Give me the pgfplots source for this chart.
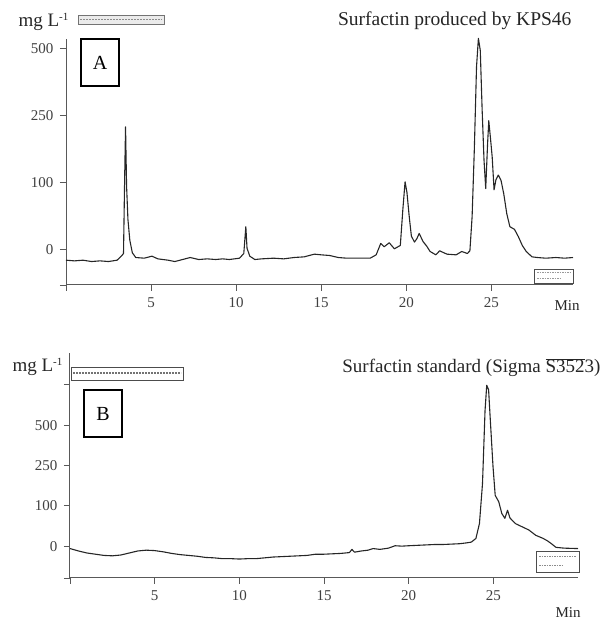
\documentclass[border=0pt]{standalone}
\usepackage{fontspec}
\setmainfont{Liberation Serif}
\usepackage{pgfplots}
\pgfplotsset{compat=1.18}

% y values are in tick units: 0 -> 0, 1 -> 100, 2 -> 250, 3 -> 500, 4 -> 750 mg/L
\pgfplotsset{
  chrom/.style={
    scale only axis,
    axis x line*=bottom, axis y line*=left,
    axis line style={black!65, line width=1pt},
    tick align=outside, major tick length=6pt,
    tick style={black!65, line width=0.9pt},
    tick label style={font=\fontsize{15}{15}\selectfont, text=black!75},
    yticklabel style={xshift=-3pt},
    xticklabel style={yshift=-3pt},
    xtick={0,5,10,15,20,25},
    xticklabels={,5,10,15,20,25},
    clip=false,
  },
  trace/.style={black!85, line width=1.1pt, line join=round},
}

\begin{document}
\begin{tikzpicture}[x=1pt,y=1pt]
\useasboundingbox (0,0) rectangle (607,621);

%% panel A
\begin{axis}[chrom,
  at={(66pt,336pt)}, anchor=south west,
  width=507pt, height=246pt,
  xmin=0, xmax=29.8, ymin=-0.53, ymax=3.14,
  ytick={-0.53,0,1,2,3},
  yticklabels={,0,100,250,500},
]
\addplot[trace] coordinates {
(0,-0.16) (0.5,-0.17) (1,-0.16) (1.5,-0.18) (2,-0.17) (2.5,-0.18) (3.0,-0.16)
(3.25,-0.10) (3.38,-0.06) (3.45,1.1) (3.5,1.83) (3.56,0.95) (3.64,0.45)
(3.75,0.14) (3.9,-0.05) (4.1,-0.12) (4.6,-0.13) (5.05,-0.10) (5.4,-0.14)
(6.0,-0.16) (6.4,-0.18) (7.0,-0.14) (7.3,-0.12) (7.8,-0.15) (8.3,-0.14)
(8.8,-0.15) (9.2,-0.14) (9.6,-0.15) (10.2,-0.13) (10.45,-0.06) (10.57,0.34)
(10.64,0.02) (10.8,-0.10) (11.1,-0.15) (11.5,-0.14) (12.2,-0.13) (12.8,-0.14)
(13.4,-0.12) (14.0,-0.11) (14.6,-0.07) (15.0,-0.08) (15.5,-0.09) (16.0,-0.12)
(16.5,-0.13) (17.2,-0.13) (17.88,-0.13) (18.23,-0.08) (18.5,0.09) (18.7,0.04)
(19.0,0.10) (19.3,0.01) (19.65,0.06) (19.8,0.6) (19.93,1.01) (20.04,0.85)
(20.17,0.5) (20.3,0.2) (20.48,0.11) (20.62,0.16) (20.76,0.24) (20.98,0.12)
(21.2,0.05) (21.4,-0.03) (21.74,-0.08) (21.96,-0.02) (22.39,-0.07)
(22.93,-0.08) (23.26,-0.03) (23.59,-0.06) (23.74,-0.02) (23.87,0.49)
(24.0,1.49) (24.13,2.73) (24.24,3.15) (24.35,2.97) (24.46,2.08) (24.57,1.33)
(24.67,0.91) (24.78,1.58) (24.85,1.92) (24.96,1.63) (25.05,1.38) (25.16,0.89)
(25.27,1.04) (25.41,1.11) (25.57,1.03) (25.73,0.83) (25.91,0.53) (26.09,0.34)
(26.36,0.30) (26.59,0.19) (26.82,0.06) (27.05,-0.03) (27.39,-0.11)
(27.7,-0.12) (28.2,-0.13) (28.8,-0.12) (29.3,-0.13) (29.8,-0.12)
};
\end{axis}

%% panel B
\begin{axis}[chrom,
  at={(70pt,43pt)}, anchor=south west,
  width=508pt, height=225pt,
  xmin=0, xmax=30, ymin=-0.79, ymax=4.79,
  ytick={-0.79,0,1,2,3,4},
  yticklabels={,0,100,250,500,},
]
\addplot[trace] coordinates {
(0,-0.06) (0.5,-0.12) (1,-0.17) (1.5,-0.2) (2,-0.23) (2.5,-0.24) (3,-0.22)
(3.5,-0.17) (4,-0.12) (4.5,-0.1) (5,-0.11) (5.5,-0.14) (6,-0.18) (6.5,-0.21)
(7,-0.23) (7.5,-0.25) (8,-0.28) (8.5,-0.29) (9,-0.31) (9.5,-0.31) (10,-0.32)
(10.5,-0.31) (11,-0.31) (11.5,-0.29) (12,-0.27) (12.5,-0.26) (13,-0.25)
(13.5,-0.24) (14,-0.23) (14.5,-0.2) (15,-0.2) (15.5,-0.19) (16,-0.18)
(16.5,-0.16) (16.65,-0.08) (16.8,-0.15) (17.2,-0.12) (17.6,-0.1) (17.9,-0.06)
(18.3,-0.08) (18.8,-0.05) (19.2,0.01) (19.6,0.0) (20,0.01) (20.5,0.02)
(21,0.03) (21.5,0.04) (22,0.04) (22.5,0.05) (23,0.06) (23.4,0.08) (23.7,0.1)
(23.97,0.19) (24.18,0.56) (24.36,1.55) (24.51,3.36) (24.61,3.99) (24.72,3.88)
(24.82,3.14) (24.98,1.98) (25.11,1.26) (25.32,1.1) (25.5,0.81) (25.68,0.69)
(25.84,0.89) (25.98,0.7) (26.3,0.56) (26.6,0.5) (27.1,0.4) (27.5,0.27)
(27.95,0.19) (28.2,0.13) (28.4,0.07) (28.7,-0.03) (29.2,-0.05) (30,-0.06)
};
\end{axis}

%% titles and labels
\node[anchor=base east, font=\fontsize{19.5}{20}\selectfont, text=black!85] at (575,595)
  {Surfactin produced by KPS46};
\node[anchor=base east, font=\fontsize{19}{20}\selectfont, text=black!85] at (604,248)
  {Surfactin standard (Sigma $\overline{\mbox{S352}}$3)};
\node[anchor=base west, font=\fontsize{19}{20}\selectfont, text=black!85] at (15,594)
  {mg L$^{\mbox{\fontsize{11}{11}\selectfont -1}}$};
\node[anchor=base west, font=\fontsize{19}{20}\selectfont, text=black!85] at (9,249)
  {mg L$^{\mbox{\fontsize{11}{11}\selectfont -1}}$};
\node[font=\fontsize{15}{15}\selectfont, text=black!85] at (567,315) {Min};
\node[font=\fontsize{15}{15}\selectfont, text=black!85] at (568,8) {Min};

%% panel letters
\draw[line width=1.3pt] (81,535) rectangle (119,582);
\node[font=\fontsize{20}{20}\selectfont] at (100,558.5) {A};
\draw[line width=1.3pt] (84,184) rectangle (122,231);
\node[font=\fontsize{20}{20}\selectfont] at (103,207.5) {B};

%% small gray header boxes
\draw[black!55, fill=black!8, line width=0.8pt] (78,597) rectangle (164,606);
\draw[black!45, line width=1.4pt, dash pattern=on 2pt off 1pt] (80,601.5) -- (162,601.5);
\draw[black!70, fill=white, line width=0.8pt] (71,241) rectangle (183,254);
\draw[black!55, line width=2pt, dash pattern=on 2pt off 1pt] (73,247.5) -- (181,247.5);

%% small legend boxes
\draw[black!70, fill=white, line width=0.8pt] (534,338) rectangle (573,352);
\draw[black!40, line width=1pt, dash pattern=on 1.5pt off 1pt] (537,348) -- (570,348);
\draw[black!40, line width=1pt, dash pattern=on 1.5pt off 1pt] (537,342) -- (560,342);
\draw[black!70, fill=white, line width=0.8pt] (536,49) rectangle (579,70);
\draw[black!45, line width=1pt, dash pattern=on 1.5pt off 1pt] (539,64) -- (576,64);
\draw[black!45, line width=1pt, dash pattern=on 1.5pt off 1pt] (539,55) -- (562,55);
\end{tikzpicture}
\end{document}
